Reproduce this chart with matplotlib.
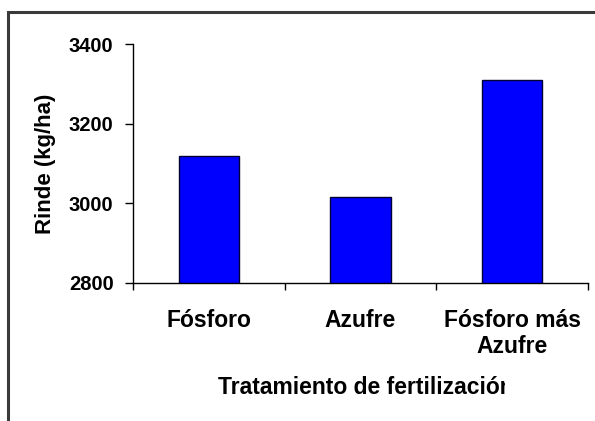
import matplotlib
matplotlib.use("Agg")
import matplotlib.pyplot as plt
from matplotlib.patches import Rectangle
from matplotlib.transforms import Bbox, TransformedBbox

# Yield by fertilization treatment
categories = ["Fósforo", "Azufre", "Fósforo más\nAzufre"]
rinde = [3120, 3015, 3310]
y_ticks = [2800, 3000, 3200, 3400]

W, H = 595, 421
DPI = 100
plt.rcParams["font.family"] = ["Liberation Sans", "DejaVu Sans"]
plt.rcParams["font.weight"] = "bold"

fig = plt.figure(figsize=(W / DPI, H / DPI), dpi=DPI)
fig.patch.set_facecolor("white")

# outer chart frame (open on the right and bottom)
frame = Rectangle((8 / W, -0.05), 1.2, 1 - 12 / H + 0.05, transform=fig.transFigure,
                  fill=False, edgecolor="#3a3a3a", linewidth=2.2, clip_on=False)
fig.patches.append(frame)

left, right = 133 / W, 588 / W
bottom, top = 1 - 283 / H, 1 - 44 / H
ax = fig.add_axes([left, bottom, right - left, top - bottom])

centers = [i + 0.5 for i in range(len(categories))]
ax.bar(centers, rinde, width=0.4, color="#0000ff", edgecolor="#000033", linewidth=1.0,
       bottom=0)

ax.set_xlim(0, len(categories))
ax.set_ylim(y_ticks[0], y_ticks[-1])
ax.set_yticks(y_ticks)
ax.set_yticklabels([str(v) for v in y_ticks], fontsize=14.5, fontweight="bold")

# category boundaries carry the tick marks, labels sit between them
ax.set_xticks(range(len(categories) + 1))
ax.set_xticklabels([])
ax.set_xticks(centers, minor=True)
ax.set_xticklabels(categories, minor=True, fontsize=16.5, fontweight="bold",
                   linespacing=1.15)
ax.tick_params(axis="x", which="minor", length=0, pad=19)
ax.tick_params(axis="x", which="major", direction="out", length=5, width=1, color="black")
ax.tick_params(axis="y", direction="out", length=6, width=1, color="black", pad=8)

for s in ("top", "right"):
    ax.spines[s].set_visible(False)
for s in ("left", "bottom"):
    ax.spines[s].set_linewidth(1.0)
    ax.spines[s].set_color("black")

ax.set_ylabel("Rinde (kg/ha)", fontsize=16, fontweight="bold", labelpad=9)

# axis title, cut off at the edge of its text box
title = fig.text(218 / W, 1 - 388 / H, "Tratamiento de fertilización", fontsize=16.5,
                 fontweight="bold", ha="left", va="center")
title.set_clip_on(True)
title.set_clip_box(TransformedBbox(Bbox([[0, 0], [505 / W, 1]]), fig.transFigure))

fig.savefig("out.png", dpi=DPI, facecolor="white")
